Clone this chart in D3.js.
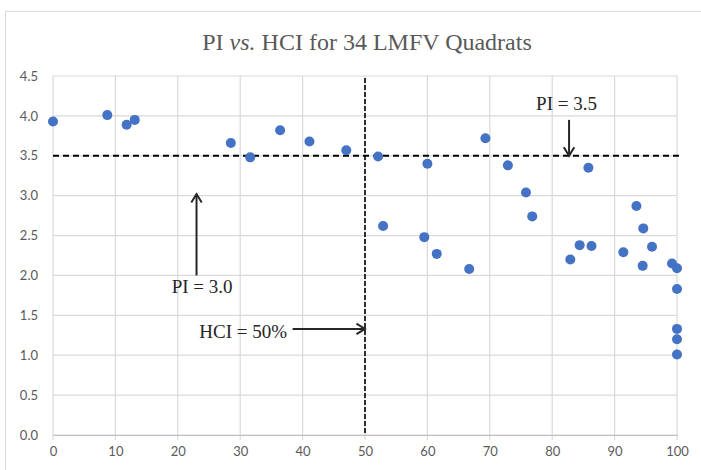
<!DOCTYPE html>
<html>
<head>
<meta charset="utf-8">
<script src="https://cdn.jsdelivr.net/npm/d3@7"></script>
<style>
  body { margin: 0; background: #fff; }
  .tick-label { font-family: Lato, "Liberation Sans", sans-serif; font-size: 13px; fill: #595959; }
  .note { font-family: "Liberation Serif", serif; font-size: 19px; fill: #262626; }
</style>
</head>
<body>
<div id="chart"></div>
<script>
// HCI (%) and PI for each quadrat
const hci = [0, 8.7, 11.8, 13.1, 28.5, 31.6, 36.4, 41.1, 47.0, 52.1,
    52.9, 60.0, 59.5, 61.5, 66.7, 69.3, 72.9, 75.8, 76.8, 82.9,
    84.4, 86.3, 85.8, 91.4, 93.5, 94.6, 94.5, 96.0, 99.2, 100,
    100, 100, 100, 100];
const pi = [3.93, 4.01, 3.89, 3.95, 3.66, 3.48, 3.82, 3.68, 3.57, 3.49,
    2.62, 3.40, 2.48, 2.27, 2.08, 3.72, 3.38, 3.04, 2.74, 2.20,
    2.38, 2.37, 3.35, 2.29, 2.87, 2.59, 2.12, 2.36, 2.15, 2.09,
    1.83, 1.33, 1.20, 1.01];

const xTicks = [0, 10, 20, 30, 40, 50, 60, 70, 80, 90, 100];
const yTicks = [0, 0.5, 1, 1.5, 2, 2.5, 3, 3.5, 4, 4.5];

const piThreshold = 3.5;
const hciThreshold = 50;

// annotation arrows in data units: [x1, y1, x2, y2] (head at x2,y2)
const arrows = [
    [82.7, 3.95, 82.7, 3.5],
    [23.0, 2.0, 23.0, 3.02],
    [38.4, 1.33, 50, 1.33]
];
const notes = [
    {text: "PI = 3.5", x: 82.3, y: 4.07, anchor: "middle"},
    {text: "PI = 3.0", x: 23.9, y: 1.78, anchor: "middle"},
    {text: "HCI = 50%", x: 37.5, y: 1.22, anchor: "end"}
];

const width = 701, height = 470;
const margin = {top: 76, right: 24, bottom: 35, left: 53};

const svg = d3.select("#chart").append("svg")
    .attr("width", width)
    .attr("height", height);

// chart frame
svg.append("rect")
    .attr("x", 5.5).attr("y", 11.5)
    .attr("width", width + 10).attr("height", height + 10)
    .attr("fill", "#fff")
    .attr("stroke", "#d9d9d9");

const x = d3.scaleLinear().domain([0, 100]).range([margin.left, width - margin.right]);
const y = d3.scaleLinear().domain([0, 4.5]).range([height - margin.bottom, margin.top]);

/* title */
const title = svg.append("text")
    .attr("x", 367).attr("y", 50)
    .attr("text-anchor", "middle")
    .style("font-family", "'Liberation Serif', serif")
    .style("font-size", "24px")
    .attr("fill", "#595959");
title.append("tspan").text("PI ");
title.append("tspan").style("font-style", "italic").text("vs.");
title.append("tspan").text(" HCI for 34 LMFV Quadrats");

/* grid */
svg.append("g").selectAll("line.vg")
    .data(xTicks)
    .enter().append("line")
    .attr("x1", d => x(d)).attr("x2", d => x(d))
    .attr("y1", y(4.5)).attr("y2", y(0) + 5)
    .attr("stroke", "#d9d9d9").attr("stroke-width", 1.2);

svg.append("g").selectAll("line.hg")
    .data(yTicks)
    .enter().append("line")
    .attr("x1", x(0)).attr("x2", x(100))
    .attr("y1", d => y(d)).attr("y2", d => y(d))
    .attr("stroke", "#d9d9d9").attr("stroke-width", 1.2);

/* axes labels */
const xAxis = d3.axisBottom(x).tickValues(xTicks).tickSize(0).tickPadding(12);
svg.append("g")
    .attr("transform", "translate(0," + y(0) + ")")
    .call(xAxis)
    .call(g => g.select(".domain").attr("stroke", "#bfbfbf"))
    .selectAll("text").attr("class", "tick-label").attr("fill", null);

const yAxis = d3.axisLeft(y).tickValues(yTicks).tickSize(0).tickPadding(15)
    .tickFormat(d3.format(".1f"));
svg.append("g")
    .attr("transform", "translate(" + x(0) + ",0)")
    .call(yAxis)
    .call(g => g.select(".domain").remove())
    .selectAll("text").attr("class", "tick-label").attr("fill", null);

/* threshold lines */
svg.append("line")
    .attr("x1", x(0)).attr("x2", x(100) + 3)
    .attr("y1", y(piThreshold)).attr("y2", y(piThreshold))
    .attr("stroke", "#000").attr("stroke-width", 2)
    .attr("stroke-dasharray", "6,4");

svg.append("line")
    .attr("x1", x(hciThreshold)).attr("x2", x(hciThreshold))
    .attr("y1", y(4.5) + 2).attr("y2", y(0))
    .attr("stroke", "#000").attr("stroke-width", 1.6)
    .attr("stroke-dasharray", "5,2");

/* points */
svg.append("g").selectAll("circle")
    .data(hci)
    .enter().append("circle")
    .attr("cx", d => x(d))
    .attr("cy", (d, i) => y(pi[i]))
    .attr("r", 5)
    .attr("fill", "#4472c4");

/* annotation arrows */
const ag = svg.append("g")
    .attr("stroke", "#262626").attr("stroke-width", 2).attr("fill", "none");
arrows.forEach(function(a) {
    const x1 = x(a[0]), y1 = y(a[1]), x2 = x(a[2]), y2 = y(a[3]);
    const ang = Math.atan2(y2 - y1, x2 - x1);
    const len = 10, spread = 0.55;
    ag.append("line").attr("x1", x1).attr("y1", y1).attr("x2", x2).attr("y2", y2);
    ag.append("path").attr("d",
        "M" + (x2 - len * Math.cos(ang - spread)) + "," + (y2 - len * Math.sin(ang - spread)) +
        "L" + x2 + "," + y2 +
        "L" + (x2 - len * Math.cos(ang + spread)) + "," + (y2 - len * Math.sin(ang + spread)));
});

svg.append("g").selectAll("text")
    .data(notes)
    .enter().append("text")
    .attr("class", "note")
    .attr("x", d => x(d.x))
    .attr("y", d => y(d.y))
    .attr("text-anchor", d => d.anchor)
    .text(d => d.text);
</script>
</body>
</html>
